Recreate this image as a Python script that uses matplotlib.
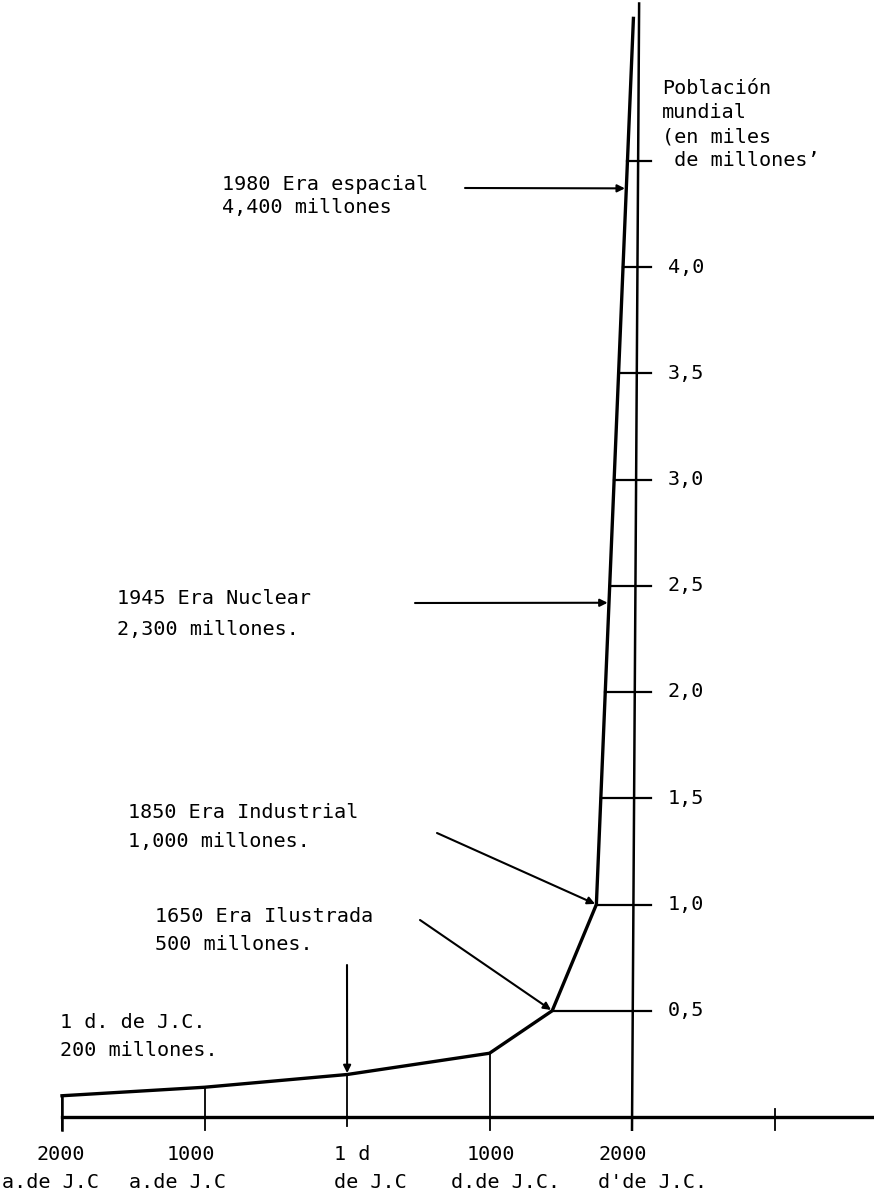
import numpy as np
import matplotlib
matplotlib.use('Agg')
import matplotlib.pyplot as plt

# Datos (poblacion en miles de millones)
anios = [-2000, -1000, 1, 1000, 1440, 1750, 2010]
poblacion = [0.10, 0.14, 0.20, 0.30, 0.50, 1.00, 5.17]

valores_eje = [0.5, 1.0, 1.5, 2.0, 2.5, 3.0, 3.5, 4.0, 4.5]
etiquetas_eje = ['0,5', '1,0', '1,5', '2,0', '2,5', '3,0', '3,5', '4,0', '']

anios_eje = [-2000, -1000, 1000, 3000]

eras = [('1980 Era espacial', '4,400 millones'),
        ('1945 Era Nuclear', '2,300 millones.'),
        ('1850 Era Industrial', '1,000 millones.'),
        ('1650 Era Ilustrada', '500 millones.'),
        ('1 d. de J.C.', '200 millones.')]
valores_eras = [4.37, 2.42, 1.0, 0.5, 0.2]

# escala del dibujo (pixeles)
W, H = 874, 1193
X0, PX_ANIO = 347, 0.1425
Y0, PX_UNIDAD = 1117, 212.5
FUENTE = 'DejaVu Sans Mono'
TAM = 14.5

plt.rcParams['font.family'] = FUENTE

fig = plt.figure(figsize=(W / 100, H / 100), dpi=100)
ax = fig.add_axes([0, 0, 1, 1])
ax.set_xlim(-X0 / PX_ANIO, (W - X0) / PX_ANIO)
ax.set_ylim((Y0 - H) / PX_UNIDAD, Y0 / PX_UNIDAD)
ax.axis('off')


def texto(x, y, s, **kw):
    fig.text(x / W, 1 - y / H, s, fontsize=TAM, va='center', ha='left', **kw)


# curva de poblacion
ax.plot(anios, poblacion, color='black', lw=2.4, solid_joinstyle='miter')

# eje horizontal
ax.plot([-2000, ax.get_xlim()[1]], [0, 0], color='black', lw=2.4)
ax.plot([-2000, -2000], [-0.06, poblacion[0]], color='black', lw=1.8)
for a in anios_eje:
    tope = np.interp(a, anios, poblacion) if a <= anios[-1] else 0.04
    ax.plot([a, a], [-0.06, tope], color='black', lw=1.3)
ax.plot([1, 1], [-0.04, 0.2], color='black', lw=1.3)

# eje vertical (ligeramente inclinado como en el original)
ax.plot([2000, 2050], [-0.06, 5.24], color='black', lw=1.8)

# marcas del eje vertical
for v, et in zip(valores_eje, etiquetas_eje):
    x_curva = np.interp(v, poblacion, anios)
    ax.plot([x_curva, 2130], [v, v], color='black', lw=1.6)
    if et:
        ax.text(2250, v, et, fontsize=TAM, va='center', ha='left')

# titulo del eje
texto(662, 89, 'Población')
texto(662, 113, 'mundial')
texto(662, 137, '(en miles')
texto(662, 161, ' de millones’')

# flechas y textos de las eras
colas = [(465, 188), (415, 603), (437, 833), (420, 920), (347, 965)]
pos_textos = [(222, 185, 22), (117, 598, 32), (128, 813, 29), (155, 916, 29), (60, 1022, 28)]
for (l1, l2), v, (cx, cy), (tx, ty, dy) in zip(eras, valores_eras, colas, pos_textos):
    xa = np.interp(v, poblacion, anios)
    ax.annotate('', xy=(xa, v), xycoords='data',
                xytext=(cx, H - cy), textcoords='figure pixels',
                arrowprops=dict(arrowstyle='-|>', color='black', lw=1.5,
                                mutation_scale=11, shrinkA=0, shrinkB=1))
    texto(tx, ty, l1)
    texto(tx, ty + dy, l2)

# etiquetas de los anios
texto(36, 1155, '2000')
texto(2, 1182, 'a.de J.C')
texto(167, 1155, '1000')
texto(129, 1182, 'a.de J.C')
texto(334, 1155, '1 d')
texto(334, 1182, 'de J.C')
texto(467, 1155, '1000')
texto(451, 1182, 'd.de J.C.')
texto(599, 1155, '2000')
texto(598, 1182, "d'de J.C.")

fig.savefig('out.png', dpi=100, facecolor='white')
